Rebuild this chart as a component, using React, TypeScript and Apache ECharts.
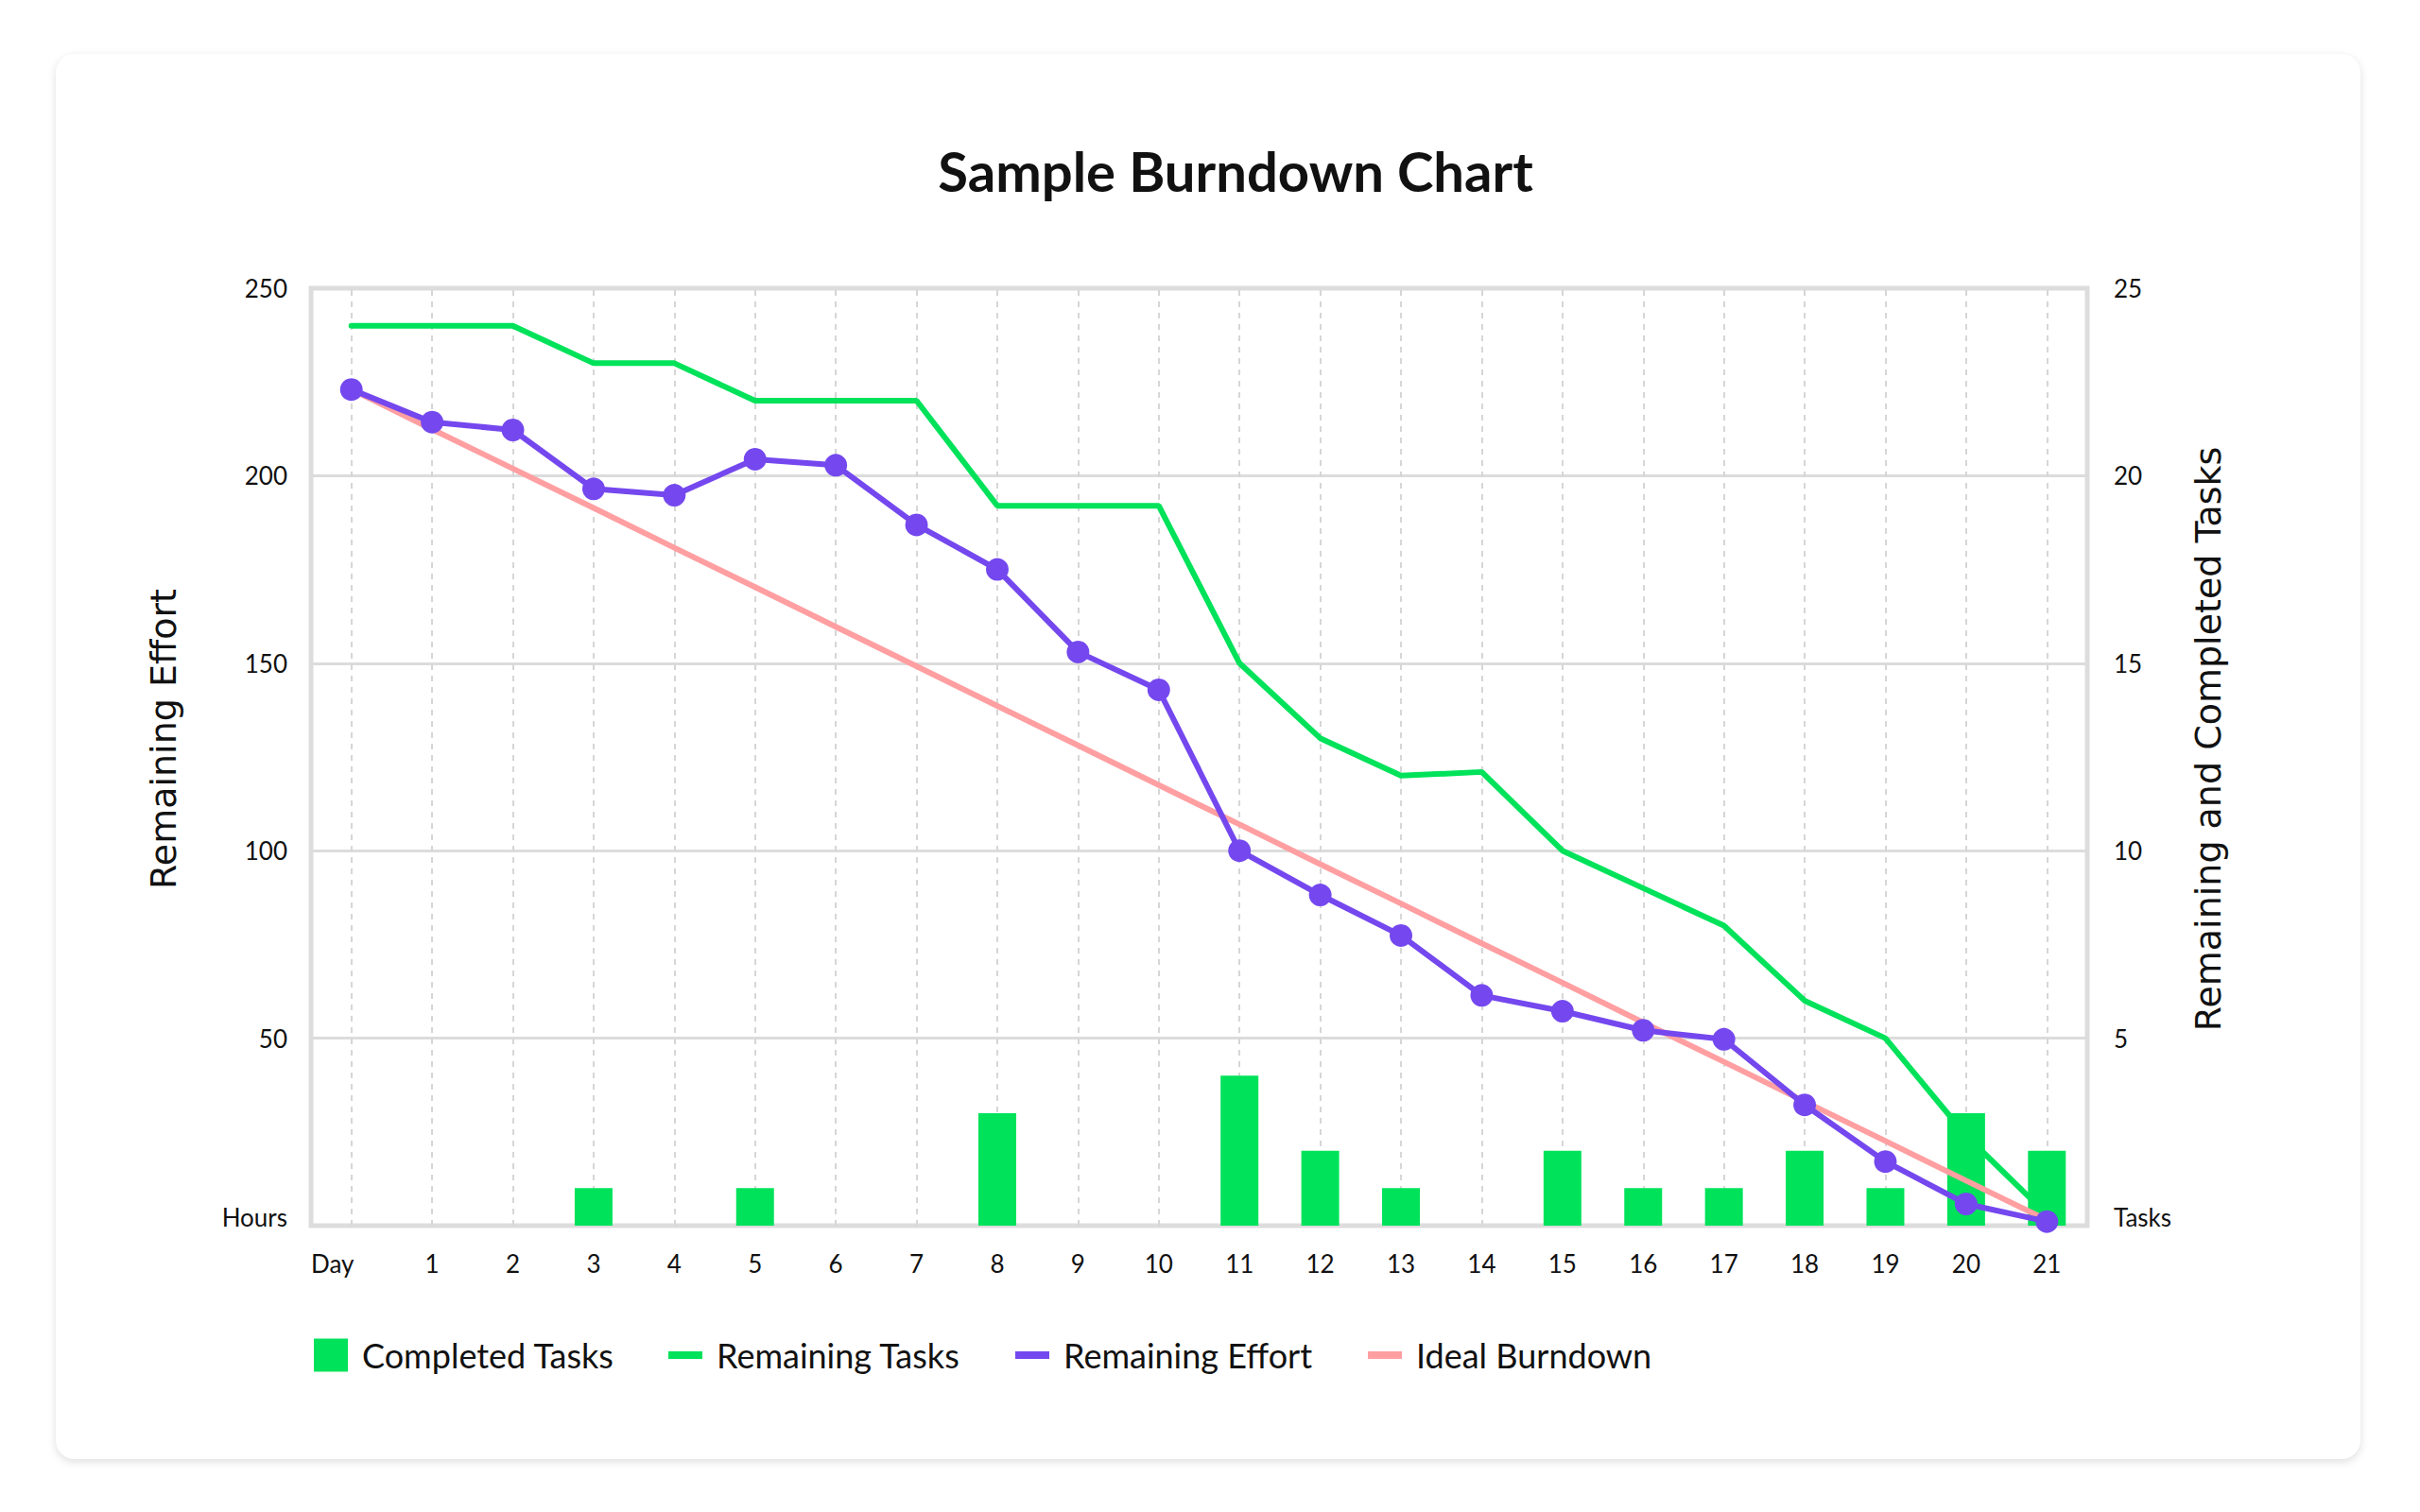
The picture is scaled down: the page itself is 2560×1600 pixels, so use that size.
import React from 'react';
import * as echarts from 'echarts';

const FONT = 'Lato, "Noto Sans", sans-serif';
const NAME_FONT = '"DejaVu Sans", "Liberation Sans", sans-serif';
const INK = '#111111';

const days = ['Day', '1', '2', '3', '4', '5', '6', '7', '8', '9', '10', '11', '12', '13', '14', '15', '16', '17', '18', '19', '20', '21'];
const completedTasks = [0, 0, 0, 1, 0, 1, 0, 0, 3, 0, 0, 4, 2, 1, 0, 2, 1, 1, 2, 1, 3, 2];
const remainingTasks = [24, 24, 24, 23, 23, 22, 22, 22, 19.2, 19.2, 19.2, 15, 13, 12, 12.1, 10, 9, 8, 6, 5, 2.4, 0.3];
const remainingEffort = [223, 214.3, 212.2, 196.5, 194.8, 204.4, 202.8, 186.9, 175, 153, 142.9, 100, 88.2, 77.4, 61.4, 57.2, 52.1, 49.7, 32.2, 17.1, 5.8, 1.1];
const idealBurndown = [223, 212.4, 201.9, 191.4, 180.8, 170.3, 159.7, 149.2, 138.6, 128.1, 117.5, 107, 96.4, 85.9, 75.3, 64.8, 54.2, 43.7, 33.1, 22.6, 12, 1.5];

const GREEN = '#00E25A';
const PURPLE = '#7448EE';
const PINK = '#FF9FA1';

// one legend per entry so each can sit where the reference puts it
const legendItem = (name: string, left: number, height: number) => ({
  data: [name],
  left,
  top: 1411,
  icon: 'rect',
  itemWidth: 36,
  itemHeight: height,
  textStyle: { fontFamily: FONT, fontSize: 36, color: INK, padding: [0, 0, 0, 10] },
});

const Burndown = () => {
  const chartRef = React.useRef(null);

  React.useEffect(() => {
    const myChart = echarts.init(chartRef.current, null, { renderer: 'svg' });

    const option: any = {
      animation: false,
      title: {
        text: 'Sample Burndown Chart',
        left: 1302,
        top: 146,
        textAlign: 'center',
        textStyle: { fontFamily: FONT, fontSize: 58, fontWeight: 'bold', color: INK },
      },
      grid: {
        left: 329,
        right: 352,
        top: 305,
        bottom: 303,
        show: true,
        borderColor: '#dddddd',
        borderWidth: 5,
        backgroundColor: 'transparent',
      },
      legend: [
        legendItem('Completed Tasks', 327, 35),
        legendItem('Remaining Tasks', 702, 8),
        legendItem('Remaining Effort', 1069, 8),
        legendItem('Ideal Burndown', 1442, 8),
      ],
      xAxis: {
        type: 'category',
        data: days,
        boundaryGap: true,
        axisLine: { show: false },
        axisTick: { show: false },
        splitLine: { show: false },
        axisLabel: {
          interval: 0,
          color: INK,
          fontFamily: FONT,
          fontSize: 26,
          margin: 27,
          formatter: (v: string) => (v === 'Day' ? '{d|Day}' : v),
          rich: {
            d: { color: INK, fontFamily: FONT, fontSize: 26, padding: [0, 40, 0, 0] },
          },
        },
      },
      yAxis: [
        {
          type: 'value',
          min: 0,
          max: 250,
          interval: 50,
          name: 'Remaining Effort',
          nameLocation: 'middle',
          nameGap: 137,
          nameTextStyle: { fontFamily: NAME_FONT, fontSize: 38, color: INK, padding: [0, 0, 0, 38] },
          axisLine: { show: false },
          axisTick: { show: false },
          splitLine: { show: true, lineStyle: { color: '#dcdcdc', width: 3 } },
          axisLabel: {
            color: INK,
            fontFamily: FONT,
            fontSize: 26,
            margin: 25,
            formatter: (v: number) => (v === 0 ? '{z|Hours}' : String(v)),
            rich: {
              z: { color: INK, fontFamily: FONT, fontSize: 26, padding: [0, 0, 18, 0] },
            },
          },
        },
        {
          type: 'value',
          min: 0,
          max: 25,
          interval: 5,
          name: 'Remaining and Completed Tasks',
          nameLocation: 'middle',
          nameGap: 109,
          nameTextStyle: { fontFamily: NAME_FONT, fontSize: 38, color: INK, padding: [0, 0, 0, 38] },
          axisLine: { show: false },
          axisTick: { show: false },
          splitLine: { show: false },
          axisLabel: {
            color: INK,
            fontFamily: FONT,
            fontSize: 26,
            margin: 28,
            formatter: (v: number) => (v === 0 ? '{z|Tasks}' : String(v)),
            rich: {
              z: { color: INK, fontFamily: FONT, fontSize: 26, padding: [0, 0, 18, 0] },
            },
          },
        },
      ],
      series: [
        {
          // helper series: dashed vertical guides at each day
          name: 'guides',
          type: 'line',
          data: [],
          z: 1,
          markLine: {
            silent: true,
            z: 1,
            symbol: ['none', 'none'],
            label: { show: false },
            lineStyle: { color: '#d6d6d6', width: 2, type: [6, 6] },
            data: days.map((d) => ({ xAxis: d })),
          },
        },
        {
          name: 'Remaining Tasks',
          type: 'line',
          yAxisIndex: 1,
          data: remainingTasks,
          z: 2,
          showSymbol: false,
          itemStyle: { color: GREEN },
          lineStyle: { color: GREEN, width: 6, cap: 'round' },
        },
        {
          name: 'Completed Tasks',
          type: 'bar',
          yAxisIndex: 1,
          data: completedTasks,
          z: 3,
          barWidth: 40,
          itemStyle: { color: GREEN },
        },
        {
          name: 'Ideal Burndown',
          type: 'line',
          data: idealBurndown,
          z: 4,
          showSymbol: false,
          itemStyle: { color: PINK },
          lineStyle: { color: PINK, width: 6 },
        },
        {
          name: 'Remaining Effort',
          type: 'line',
          data: remainingEffort,
          z: 5,
          symbol: 'circle',
          symbolSize: 24,
          itemStyle: { color: PURPLE },
          lineStyle: { color: PURPLE, width: 6 },
        },
      ],
    };

    myChart.setOption(option);

    return () => {
      myChart.dispose();
    };
  }, []);

  return (
    <div style={{ position: 'fixed', left: 0, top: 0, width: 2560, height: 1600, background: '#ffffff' }}>
      <div
        style={{
          position: 'absolute',
          left: 59,
          top: 57,
          width: 2438,
          height: 1487,
          borderRadius: 20,
          background: '#ffffff',
          boxShadow: '0 3px 10px rgba(0,0,0,0.13)',
        }}
      />
      <div ref={chartRef} style={{ position: 'absolute', left: 0, top: 0, width: 2560, height: 1600 }} />
    </div>
  );
};

export default Burndown;
